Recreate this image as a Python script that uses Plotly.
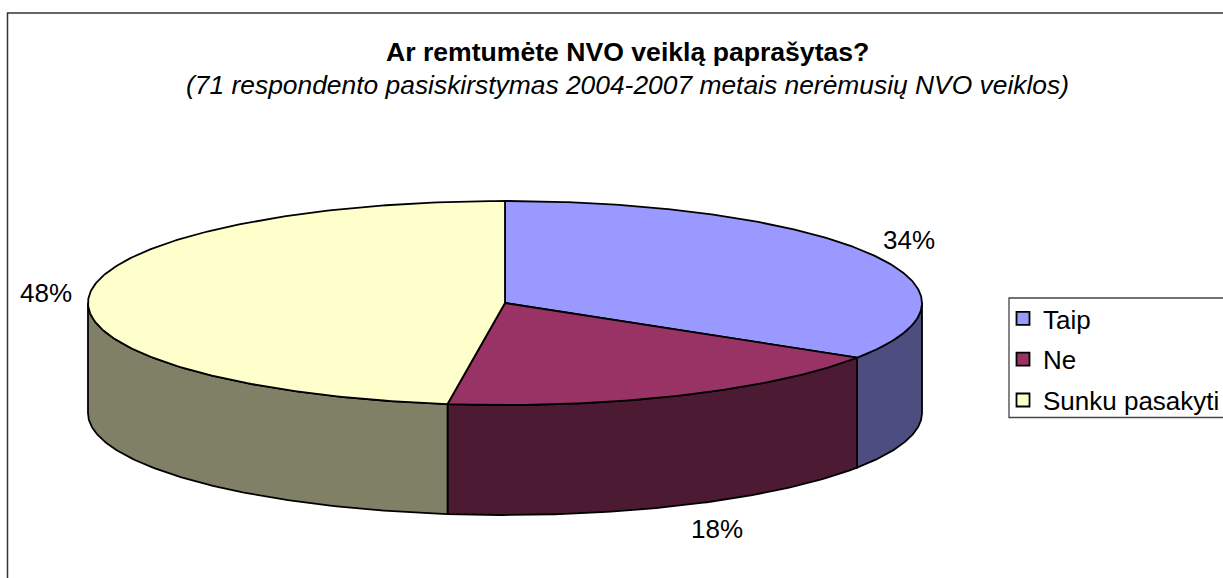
import numpy as np
import plotly.graph_objects as go

categories = ["Taip", "Ne", "Sunku pasakyti"]
shares = [34.0, 18.2, 47.8]
percent_labels = ["34%", "18%", "48%"]
top_colors = ["#9999FF", "#993366", "#FFFFCC"]
wall_colors = ["#4D4D80", "#4D1A33", "#808066"]
title = "<b>Ar remtumėte NVO veiklą paprašytas?</b>"
subtitle = "<i>(71 respondento pasiskirstymas 2004-2007 metais nerėmusių NVO veiklos)</i>"

CX, CY, RX, RY, DEPTH = 505, 303, 417, 102, 110
FONT = "Liberation Sans, Arial, sans-serif"

def ell(a):
    return CX + RX * np.sin(a), CY - RY * np.cos(a)

total = sum(shares)
edges = np.concatenate([[0], np.cumsum(shares)]) / total * 2 * np.pi

fig = go.Figure()
line = dict(color="black", width=1.8)

# side walls (only the front half of the rim is visible)
for i in range(3):
    lo, hi = max(edges[i], np.pi / 2), min(edges[i + 1], 3 * np.pi / 2)
    if hi <= lo:
        continue
    a = np.linspace(lo, hi, 120)
    x, y = ell(a)
    fig.add_trace(go.Scatter(
        x=np.r_[x, x[::-1], x[0]], y=np.r_[y, y[::-1] + DEPTH, y[0]],
        mode="lines", fill="toself", fillcolor=wall_colors[i], line=line,
        showlegend=False, hoverinfo="skip"))

# top faces
for i in range(3):
    a = np.linspace(edges[i], edges[i + 1], 240)
    x, y = ell(a)
    fig.add_trace(go.Scatter(
        x=np.r_[CX, x, CX], y=np.r_[CY, y, CY],
        mode="lines", fill="toself", fillcolor=top_colors[i], line=line,
        showlegend=False, name=categories[i], hoverinfo="name"))

# legend entries
for i in range(3):
    fig.add_trace(go.Scatter(
        x=[None], y=[None], mode="markers", name=categories[i],
        legendgroup=categories[i],
        marker=dict(symbol="square", size=13, color=top_colors[i],
                    line=dict(color="black", width=1.8))))

label_pos = [(909, 240), (717, 529), (46, 293)]
anns = [dict(x=px, y=py, xref="x", yref="y", text=t, showarrow=False,
             font=dict(size=26, color="black", family=FONT))
        for (px, py), t in zip(label_pos, percent_labels)]
anns += [
    dict(x=627, y=52, xref="x", yref="y", text=title, showarrow=False,
         font=dict(size=26.6, color="black", family=FONT)),
    dict(x=627, y=85, xref="x", yref="y", text=subtitle, showarrow=False,
         font=dict(size=26.4, color="black", family=FONT)),
]

fig.update_layout(
    width=1223, height=578, autosize=False,
    margin=dict(l=0, r=0, t=0, b=0, autoexpand=False),
    paper_bgcolor="white", plot_bgcolor="white",
    xaxis=dict(range=[0, 1223], visible=False, fixedrange=True),
    yaxis=dict(range=[578, 0], visible=False, fixedrange=True),
    annotations=anns,
    shapes=[
        dict(type="rect", xref="x", yref="y", x0=7.5, y0=13, x1=1300, y1=700,
             line=dict(color="#333333", width=1.5), layer="below"),
        dict(type="rect", xref="x", yref="y", x0=1009, y0=298, x1=1300, y1=417.5,
             line=dict(color="#444444", width=1.3), layer="below"),
    ],
    legend=dict(x=1003 / 1223, y=1 - 295 / 578, xanchor="left", yanchor="top",
                bgcolor="rgba(0,0,0,0)", borderwidth=0, itemsizing="trace",
                traceorder="grouped", tracegroupgap=4,
                font=dict(size=26, color="black", family=FONT), itemwidth=30),
)
fig.write_html("out.html", config=dict(displayModeBar=False),
               post_script="document.body.style.margin='0';document.body.style.overflow='hidden';")
